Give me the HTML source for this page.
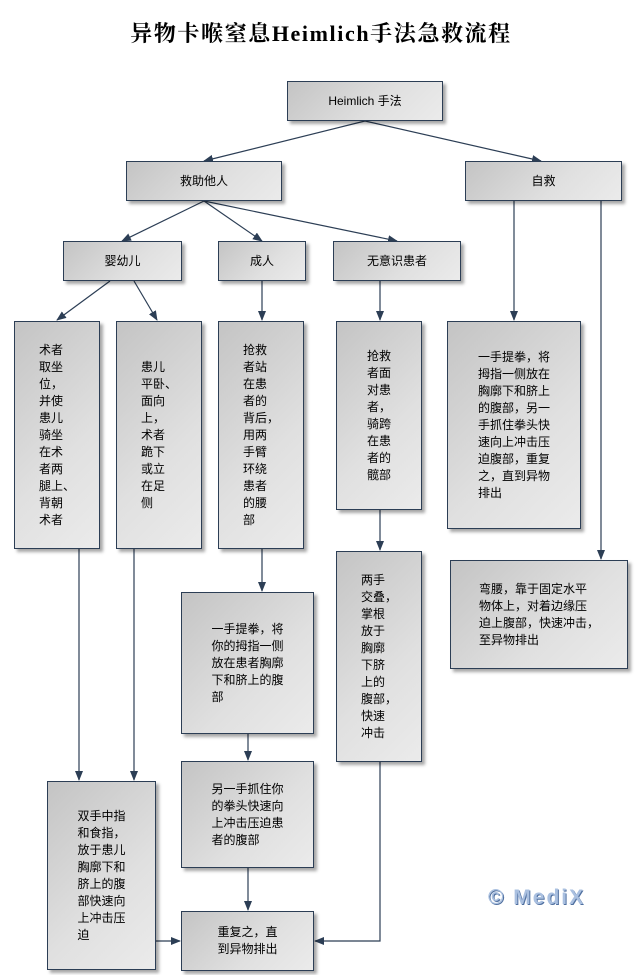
<!DOCTYPE html>
<html><head><meta charset="utf-8"><style>
body{margin:0;width:642px;height:975px;background:#fff;position:relative;overflow:hidden;font-family:"Liberation Sans","Noto Sans CJK SC",sans-serif;}
h1{position:absolute;top:17px;left:0;width:642px;text-align:center;margin:0;font:bold 22px "Liberation Serif","Noto Serif CJK SC",serif;color:#000;letter-spacing:1.6px;}
.b{position:absolute;box-sizing:border-box;border:1px solid #2c3e55;background:linear-gradient(135deg,#c4c4c4 0%,#e0e0e0 60%,#ebebeb 100%);box-shadow:3px 3px 3px rgba(0,0,0,.35);display:flex;align-items:center;justify-content:center;font-size:12px;line-height:17px;color:#000;}
.l{text-align:left;}
svg{position:absolute;left:0;top:0;}
.wm{position:absolute;left:488px;top:886px;font:bold 21px "Liberation Sans",sans-serif;color:#aac0e0;text-shadow:1px 1px 0 #5070a0,-1px -1px 0 #fff;letter-spacing:2px;}
</style></head><body>
<h1>异物卡喉窒息Heimlich手法急救流程</h1>
<svg width="642" height="975">
<defs><marker id="a" markerWidth="10" markerHeight="8" refX="9" refY="4" orient="auto" markerUnits="userSpaceOnUse"><path d="M0,0L10,4L0,8z" fill="#2c3e55"/></marker></defs>
<g stroke="#2c3e55" stroke-width="1.2" fill="none" marker-end="url(#a)">
<line x1="365" y1="121" x2="204" y2="161"/>
<line x1="365" y1="121" x2="541" y2="161"/>
<line x1="204" y1="201" x2="122" y2="241"/>
<line x1="204" y1="201" x2="262" y2="241"/>
<line x1="204" y1="201" x2="397" y2="241"/>
<line x1="110" y1="281" x2="57" y2="320"/>
<line x1="134" y1="281" x2="157" y2="320"/>
<line x1="262" y1="281" x2="262" y2="320"/>
<line x1="380" y1="281" x2="380" y2="320"/>
<line x1="514" y1="201" x2="514" y2="320"/>
<line x1="601" y1="201" x2="601" y2="559"/>
<line x1="262" y1="549" x2="262" y2="591"/>
<line x1="380" y1="510" x2="380" y2="550"/>
<line x1="248" y1="734" x2="248" y2="760"/>
<line x1="248" y1="868" x2="248" y2="910"/>
<line x1="79" y1="549" x2="79" y2="780"/>
<line x1="134" y1="549" x2="134" y2="780"/>
<line x1="156" y1="941" x2="180" y2="941"/>
<polyline points="380,762 380,941 315,941"/>
</g></svg>
<div class="b" style="left:287px;top:81px;width:156px;height:40px">Heimlich 手法</div>
<div class="b" style="left:126px;top:161px;width:156px;height:40px">救助他人</div>
<div class="b" style="left:465px;top:161px;width:157px;height:40px">自救</div>
<div class="b" style="left:63px;top:241px;width:119px;height:40px">婴幼儿</div>
<div class="b" style="left:218px;top:241px;width:88px;height:40px">成人</div>
<div class="b" style="left:333px;top:241px;width:128px;height:40px">无意识患者</div>
<div class="b l" style="left:14px;top:321px;width:86px;height:228px"><div>术者<br>取坐<br>位，<br>并使<br>患儿<br>骑坐<br>在术<br>者两<br>腿上、<br>背朝<br>术者</div></div>
<div class="b l" style="left:116px;top:321px;width:86px;height:228px"><div>患儿<br>平卧、<br>面向<br>上，<br>术者<br>跪下<br>或立<br>在足<br>侧</div></div>
<div class="b l" style="left:218px;top:321px;width:86px;height:228px"><div>抢救<br>者站<br>在患<br>者的<br>背后，<br>用两<br>手臂<br>环绕<br>患者<br>的腰<br>部</div></div>
<div class="b l" style="left:336px;top:321px;width:86px;height:189px"><div>抢救<br>者面<br>对患<br>者，<br>骑跨<br>在患<br>者的<br>髋部</div></div>
<div class="b l" style="left:447px;top:321px;width:134px;height:208px"><div>一手提拳，将<br>拇指一侧放在<br>胸廓下和脐上<br>的腹部，另一<br>手抓住拳头快<br>速向上冲击压<br>迫腹部，重复<br>之，直到异物<br>排出</div></div>
<div class="b l" style="left:336px;top:551px;width:86px;height:211px"><div>两手<br>交叠，<br>掌根<br>放于<br>胸廓<br>下脐<br>上的<br>腹部，<br>快速<br>冲击</div></div>
<div class="b l" style="left:450px;top:560px;width:178px;height:109px"><div>弯腰，靠于固定水平<br>物体上，对着边缘压<br>迫上腹部，快速冲击，<br>至异物排出</div></div>
<div class="b l" style="left:181px;top:592px;width:133px;height:142px"><div>一手提拳，将<br>你的拇指一侧<br>放在患者胸廓<br>下和脐上的腹<br>部</div></div>
<div class="b l" style="left:181px;top:761px;width:133px;height:107px"><div>另一手抓住你<br>的拳头快速向<br>上冲击压迫患<br>者的腹部</div></div>
<div class="b l" style="left:47px;top:781px;width:109px;height:189px"><div>双手中指<br>和食指，<br>放于患儿<br>胸廓下和<br>脐上的腹<br>部快速向<br>上冲击压<br>迫</div></div>
<div class="b l" style="left:181px;top:911px;width:133px;height:60px"><div>重复之，直<br>到异物排出</div></div>
<div class="wm">© MediX</div>
</body></html>
